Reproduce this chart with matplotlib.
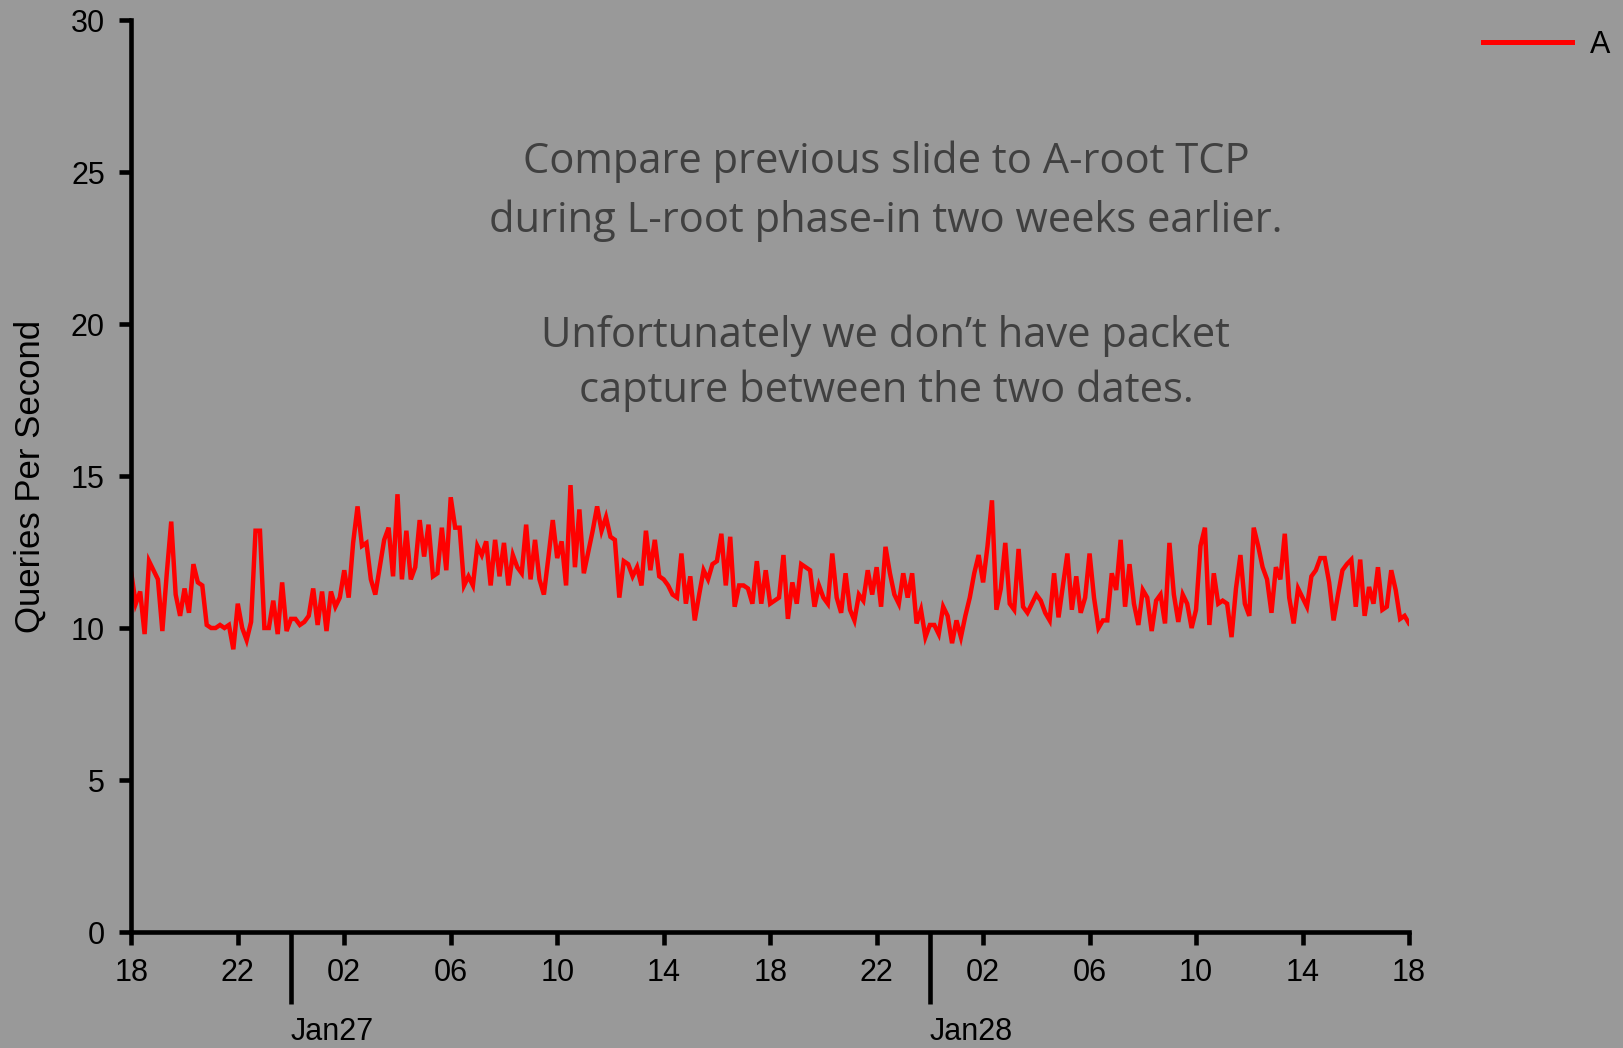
import pandas as pd
import matplotlib
matplotlib.use("Agg")
import matplotlib.pyplot as plt
import matplotlib.dates as mdates

# ---------------- data ----------------
start_time = "2016-01-26 18:00"
sample_step = "10min"
series_name = "A"
y_label = "Queries Per Second"
y_ticks = [0, 5, 10, 15, 20, 25, 30]
note_lines = [
    "Compare previous slide to A-root TCP",
    "during L-root phase-in two weeks earlier.",
    "Unfortunately we don\u2019t have packet",
    "capture between the two dates.",
]

# 18:00 - 02:00
block_1 = [11.8, 10.8, 11.2, 9.8, 12.2, 11.9, 11.6, 9.9, 11.8, 13.5, 11.1, 10.4,
           11.3, 10.5, 12.1, 11.5, 11.4, 10.1, 10.0, 10.0, 10.1, 10.0, 10.1, 9.3,
           10.8, 10.0, 9.6, 10.2, 13.2, 13.2, 10.0, 10.0, 10.9, 9.8, 11.5, 9.9,
           10.3, 10.3, 10.1, 10.2, 10.4, 11.3, 10.1, 11.2, 9.9, 11.2, 10.7, 11.0]
# 02:00 - 10:00
block_2 = [11.9, 11.0, 12.8, 14.0, 12.7, 12.8, 11.6, 11.1, 12.0, 12.9, 13.3, 11.7,
           14.4, 11.6, 13.2, 11.6, 12.0, 13.55, 12.35, 13.4, 11.7, 11.8, 13.3, 11.9,
           14.3, 13.3, 13.3, 11.4, 11.7, 11.4, 12.7, 12.4, 12.85, 11.4, 12.9, 11.7,
           12.8, 11.4, 12.4, 12.0, 11.8, 13.4, 11.6, 12.9, 11.6, 11.1, 12.3, 13.55]
# 10:00 - 18:00
block_3 = [12.3, 12.85, 11.4, 14.7, 12.0, 13.9, 11.8, 12.5, 13.2, 14.0, 13.2, 13.65,
           13.0, 12.9, 11.0, 12.2, 12.1, 11.7, 12.0, 11.4, 13.2, 11.9, 12.9, 11.7,
           11.6, 11.4, 11.1, 11.0, 12.45, 10.8, 11.7, 10.25, 11.1, 11.9, 11.6, 12.1,
           12.2, 13.1, 11.4, 13.0, 10.7, 11.4, 11.4, 11.3, 10.8, 12.2, 10.8, 11.9]
# 18:00 - 02:00
block_4 = [10.8, 10.9, 11.0, 12.4, 10.3, 11.5, 10.8, 12.1, 12.0, 11.9, 10.7, 11.4,
           11.0, 10.8, 12.45, 11.0, 10.5, 11.8, 10.6, 10.25, 11.1, 10.9, 11.9, 11.1,
           12.0, 10.7, 12.67, 11.8, 11.1, 10.8, 11.8, 11.0, 11.8, 10.15, 10.6, 9.7,
           10.1, 10.1, 9.8, 10.7, 10.4, 9.5, 10.25, 9.7, 10.4, 11.0, 11.8, 12.4]
# 02:00 - 10:00
block_5 = [11.5, 12.7, 14.2, 10.6, 11.3, 12.8, 10.8, 10.6, 12.6, 10.7, 10.5, 10.8,
           11.1, 10.9, 10.5, 10.25, 11.8, 10.35, 11.4, 12.45, 10.6, 11.7, 10.5, 11.0,
           12.45, 11.0, 10.0, 10.25, 10.25, 11.8, 11.25, 12.9, 10.7, 12.1, 10.8, 10.1,
           11.25, 11.0, 9.9, 10.9, 11.1, 10.15, 12.8, 11.1, 10.2, 11.1, 10.8, 10.0]
# 10:00 - 18:00
block_6 = [10.6, 12.7, 13.3, 10.1, 11.8, 10.8, 10.9, 10.8, 9.7, 11.3, 12.4, 10.8,
           10.4, 13.3, 12.7, 12.0, 11.6, 10.5, 12.0, 11.6, 13.1, 11.0, 10.15, 11.3,
           11.0, 10.7, 11.7, 11.9, 12.3, 12.3, 11.5, 10.25, 11.1, 11.9, 12.1, 12.25,
           10.7, 12.25, 10.4, 11.35, 10.8, 12.0, 10.6, 10.7, 11.9, 11.25, 10.3, 10.4,
           10.15]

values = block_1 + block_2 + block_3 + block_4 + block_5 + block_6
times = pd.date_range(start_time, periods=len(values), freq=sample_step)

# ---------------- figure ----------------
BG = "#999999"
W, H = 1623, 1048
FONT = ["Liberation Sans", "DejaVu Sans"]
fig = plt.figure(figsize=(W / 100, H / 100), dpi=100, facecolor=BG)
left, right, bottom, top = 131.3 / W, 1409 / W, 1 - 932 / H, 1 - 20 / H
ax = fig.add_axes([left, bottom, right - left, top - bottom])
ax.set_facecolor(BG)

ax.plot(times, values, color="#ff0000", lw=3.2, label=series_name,
        solid_joinstyle="miter")

ax.set_ylim(0, 30)
ax.set_xlim(times[0], times[-1])
ax.set_yticks(y_ticks)

for sp in ["top", "right"]:
    ax.spines[sp].set_visible(False)
for sp in ["left", "bottom"]:
    ax.spines[sp].set_linewidth(3.3)
    ax.spines[sp].set_color("black")

ax.xaxis.set_major_locator(mdates.HourLocator(byhour=[2, 6, 10, 14, 18, 22]))
ax.xaxis.set_major_formatter(mdates.DateFormatter("%H"))
ax.xaxis.set_minor_locator(mdates.HourLocator(byhour=[0]))
ax.xaxis.set_minor_formatter(mdates.DateFormatter("%b%d"))

ax.tick_params(axis="y", which="major", length=9, width=3.3, pad=10,
               labelsize=22, colors="black")
ax.tick_params(axis="x", which="major", length=9, width=3.3, pad=10,
               labelsize=22, colors="black")
ax.tick_params(axis="x", which="minor", length=52, width=3.3, pad=9,
               labelsize=22, colors="black")
for lbl in ax.get_xticklabels(which="both") + ax.get_yticklabels():
    lbl.set_fontfamily(FONT)
for t in ax.xaxis.get_minor_ticks():
    t.label1.set_horizontalalignment("left")

ax.set_ylabel(y_label, fontsize=25, family=FONT)
ax.yaxis.set_label_coords(-0.066, 0.5)

# legend
leg = fig.legend(loc="center left", bbox_to_anchor=(1483 / W, 1 - 45 / H),
                 frameon=False, borderpad=0, borderaxespad=0,
                 handlelength=2.9, handletextpad=0.6,
                 prop=dict(family=FONT, size=22))
for h in leg.get_lines():
    h.set_linewidth(3.6)

# annotation
note_y = [162, 221, 336, 391]
for line, yy in zip(note_lines, note_y):
    fig.text(886 / W, 1 - yy / H, line, ha="center", va="center",
             fontsize=30, color="#404040",
             family=["Open Sans", "DejaVu Sans"])

fig.savefig("out.png", dpi=100, facecolor=BG)
